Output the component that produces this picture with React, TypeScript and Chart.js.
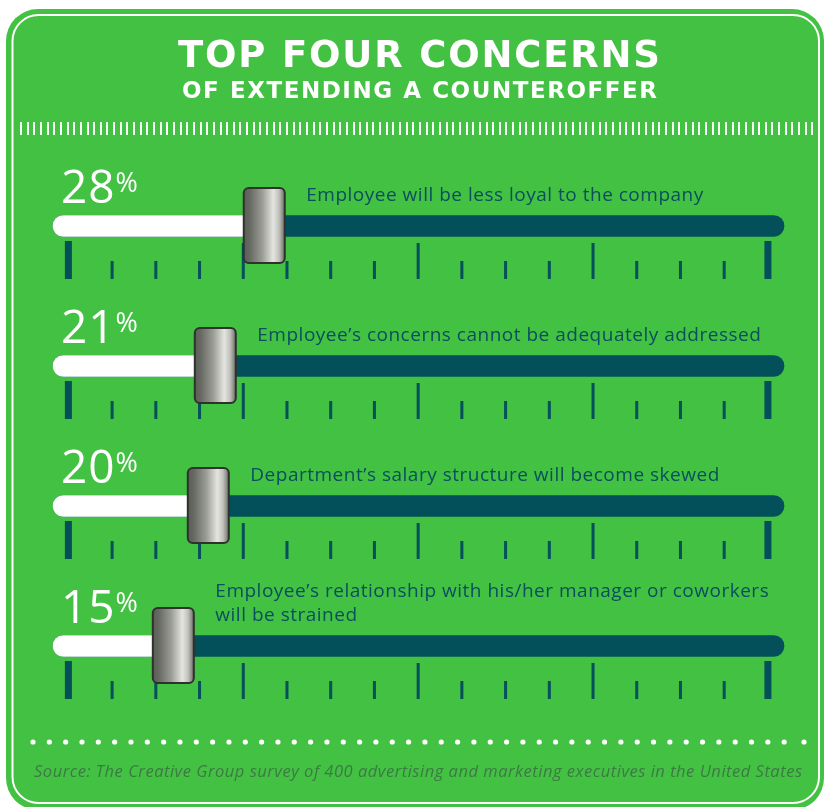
import { useEffect, useRef } from "react";
import { Chart, registerables } from "chart.js";

Chart.register(...registerables);

const TITLE = "TOP FOUR CONCERNS";
const SUBTITLE = "OF EXTENDING A COUNTEROFFER";
const CONCERNS: string[][] = [
  ["Employee will be less loyal to the company"],
  ["Employee’s concerns cannot be adequately addressed"],
  ["Department’s salary structure will become skewed"],
  ["Employee’s relationship with his/her manager or coworkers", "will be strained"],
];
const PERCENTS = [28, 21, 20, 15];
const X_MIN = -2.2;
const X_MAX = 102.3;
const MAJOR_TICKS = [0, 25, 50, 75, 100];
const END_TICKS = [0, 100];
const MINOR_TICKS = [6.25, 12.5, 18.75, 31.25, 37.5, 43.75, 56.25, 62.5, 68.75, 81.25, 87.5, 93.75];
const SOURCE =
  "Source: The Creative Group survey of 400 advertising and marketing executives in the United States";

const W = 825;
const H = 807;
const GREEN = "#43c143";
const TEAL = "#03505b";
const TEXT_TEAL = "#0b4e5e";
const FONT = "'Open Sans', 'Noto Sans', sans-serif";
const TITLE_FONT = "'DejaVu Sans', 'Open Sans', sans-serif";

function rr(ctx: CanvasRenderingContext2D, x: number, y: number, w: number, h: number, r: number) {
  ctx.beginPath();
  ctx.moveTo(x + r, y);
  ctx.lineTo(x + w - r, y);
  ctx.arcTo(x + w, y, x + w, y + r, r);
  ctx.lineTo(x + w, y + h - r);
  ctx.arcTo(x + w, y + h, x + w - r, y + h, r);
  ctx.lineTo(x + r, y + h);
  ctx.arcTo(x, y + h, x, y + h - r, r);
  ctx.lineTo(x, y + r);
  ctx.arcTo(x, y, x + r, y, r);
  ctx.closePath();
}

function drawFit(ctx: any, text: string, left: number, right: number, y: number) {
  ctx.letterSpacing = "0px";
  const w = ctx.measureText(text).width;
  const n = [...text].length;
  const sp = (right - left - w) / (n - 1);
  ctx.letterSpacing = sp + "px";
  ctx.textAlign = "left";
  ctx.fillText(text, left, y);
  ctx.letterSpacing = "0px";
}

const decor = {
  id: "decor",
  beforeDraw(chart: any) {
    const ctx = chart.ctx as any;
    ctx.save();
    ctx.fillStyle = "#ffffff";
    ctx.fillRect(0, 0, W, H);
    ctx.fillStyle = GREEN;
    rr(ctx, 6, 9, 818, 801, 32);
    ctx.fill();
    ctx.strokeStyle = "#ffffff";
    ctx.lineWidth = 2;
    rr(ctx, 12.5, 15, 806.5, 788, 26);
    ctx.stroke();

    // title
    ctx.fillStyle = "#ffffff";
    ctx.textBaseline = "alphabetic";
    ctx.font = `700 37px ${TITLE_FONT}`;
    drawFit(ctx, TITLE, 178, 660, 67);
    ctx.font = `700 23px ${TITLE_FONT}`;
    drawFit(ctx, SUBTITLE, 182, 657, 98);

    // stripe
    ctx.fillStyle = "rgba(255,255,255,0.95)";
    for (let i = 0; i < 120; i++) {
      const x = 20 + i * 6.65;
      ctx.fillRect(Math.round(x), 122, 2, 13);
    }

    // dots
    ctx.fillStyle = "#ffffff";
    const dotXs: number[] = [];
    for (let i = 0; i < 47; i++) dotXs.push(33 + i * 16.33);
    dotXs.push(804);
    for (const x of dotXs) {
      ctx.beginPath();
      ctx.arc(x, 742, 2.6, 0, Math.PI * 2);
      ctx.fill();
    }

    // source
    ctx.fillStyle = "#3c7a44";
    ctx.font = `italic 400 16.5px ${FONT}`;
    drawFit(ctx, SOURCE, 34, 802, 777);
    ctx.restore();
  },
  beforeDatasetsDraw(chart: any) {
    const ctx = chart.ctx;
    const xs = chart.scales.x;
    const meta = chart.getDatasetMeta(0);
    ctx.save();
    ctx.fillStyle = TEAL;
    meta.data.forEach((bar: any) => {
      const y = bar.y;
      END_TICKS.forEach((v) => {
        const px = xs.getPixelForValue(v);
        ctx.fillRect(px - 3.5, y + 15, 7, 38);
      });
      MAJOR_TICKS.filter((v) => !END_TICKS.includes(v)).forEach((v) => {
        const px = xs.getPixelForValue(v);
        ctx.fillRect(px - 1.5, y + 17, 3, 36);
      });
      MINOR_TICKS.forEach((v) => {
        const px = xs.getPixelForValue(v);
        ctx.fillRect(px - 1.5, y + 35, 3, 18);
      });
    });
    ctx.restore();
  },
  afterDatasetsDraw(chart: any) {
    const ctx = chart.ctx as any;
    const xs = chart.scales.x;
    const meta = chart.getDatasetMeta(0);
    ctx.save();
    ctx.font = `400 19px ${FONT}`;
    ctx.letterSpacing = "0px";
    const w0 = ctx.measureText(CONCERNS[0][0]).width;
    const descSp = (397 - w0) / (CONCERNS[0][0].length - 1);

    meta.data.forEach((bar: any, i: number) => {
      const y = bar.y;
      const hx = xs.getPixelForValue(PERCENTS[i]);
      // handle
      const hw = 41;
      const hh = 75;
      const left = hx - hw / 2;
      const top = y - 38;
      const g = ctx.createLinearGradient(left, 0, left + hw, 0);
      g.addColorStop(0, "#5a5d55");
      g.addColorStop(0.15, "#676a62");
      g.addColorStop(0.45, "#9a9c95");
      g.addColorStop(0.72, "#e4e5e0");
      g.addColorStop(0.86, "#c0c1bb");
      g.addColorStop(1, "#6c6e68");
      ctx.fillStyle = g;
      rr(ctx, left, top, hw, hh, 5);
      ctx.fill();
      ctx.strokeStyle = "#2f312d";
      ctx.lineWidth = 2;
      ctx.stroke();

      // percent
      ctx.fillStyle = "#ffffff";
      ctx.textAlign = "left";
      ctx.textBaseline = "alphabetic";
      ctx.font = `400 46px ${FONT}`;
      ctx.letterSpacing = "1px";
      const num = String(PERCENTS[i]);
      ctx.fillText(num, 61, y - 23);
      const nw = ctx.measureText(num).width;
      ctx.letterSpacing = "0px";
      ctx.font = `400 27px ${FONT}`;
      ctx.fillText("%", 61 + nw, y - 34);

      // description
      ctx.fillStyle = TEXT_TEAL;
      ctx.font = `400 19px ${FONT}`;
      ctx.letterSpacing = descSp + "px";
      const lines = CONCERNS[i];
      lines.forEach((ln, k) => {
        ctx.fillText(ln, hx + 42, y - 25 - (lines.length - 1 - k) * 24);
      });
      ctx.letterSpacing = "0px";
    });
    ctx.restore();
  },
};

export default function App() {
  const ref = useRef<HTMLCanvasElement | null>(null);
  useEffect(() => {
    document.body.style.margin = "0";
    const canvas = ref.current!;
    const chart = new Chart(canvas, {
      type: "bar",
      data: {
        labels: CONCERNS.map((c) => c.join(" ")),
        datasets: [
          {
            label: "Share",
            data: PERCENTS.map((v) => [X_MIN, v]) as any,
            backgroundColor: "#ffffff",
            borderRadius: 11,
            borderSkipped: false,
            barThickness: 21,
            grouped: false,
            clip: false as any,
          },
          {
            label: "Track",
            data: PERCENTS.map(() => [X_MIN, X_MAX]) as any,
            backgroundColor: TEAL,
            borderRadius: 11,
            borderSkipped: false,
            barThickness: 21,
            grouped: false,
            clip: false as any,
          },
        ],
      },
      options: {
        indexAxis: "y",
        responsive: false,
        animation: false,
        devicePixelRatio: 1,
        layout: { padding: { left: 53, right: 41, top: 156, bottom: 91 } },
        scales: {
          x: { type: "linear", min: X_MIN, max: X_MAX, display: false },
          y: { type: "category", display: false },
        },
        plugins: {
          legend: { display: false },
          title: { display: false },
          tooltip: { enabled: false },
        },
      },
      plugins: [decor],
    });
    return () => chart.destroy();
  }, []);
  return <canvas ref={ref} width={W} height={H} style={{ display: "block" }} />;
}
